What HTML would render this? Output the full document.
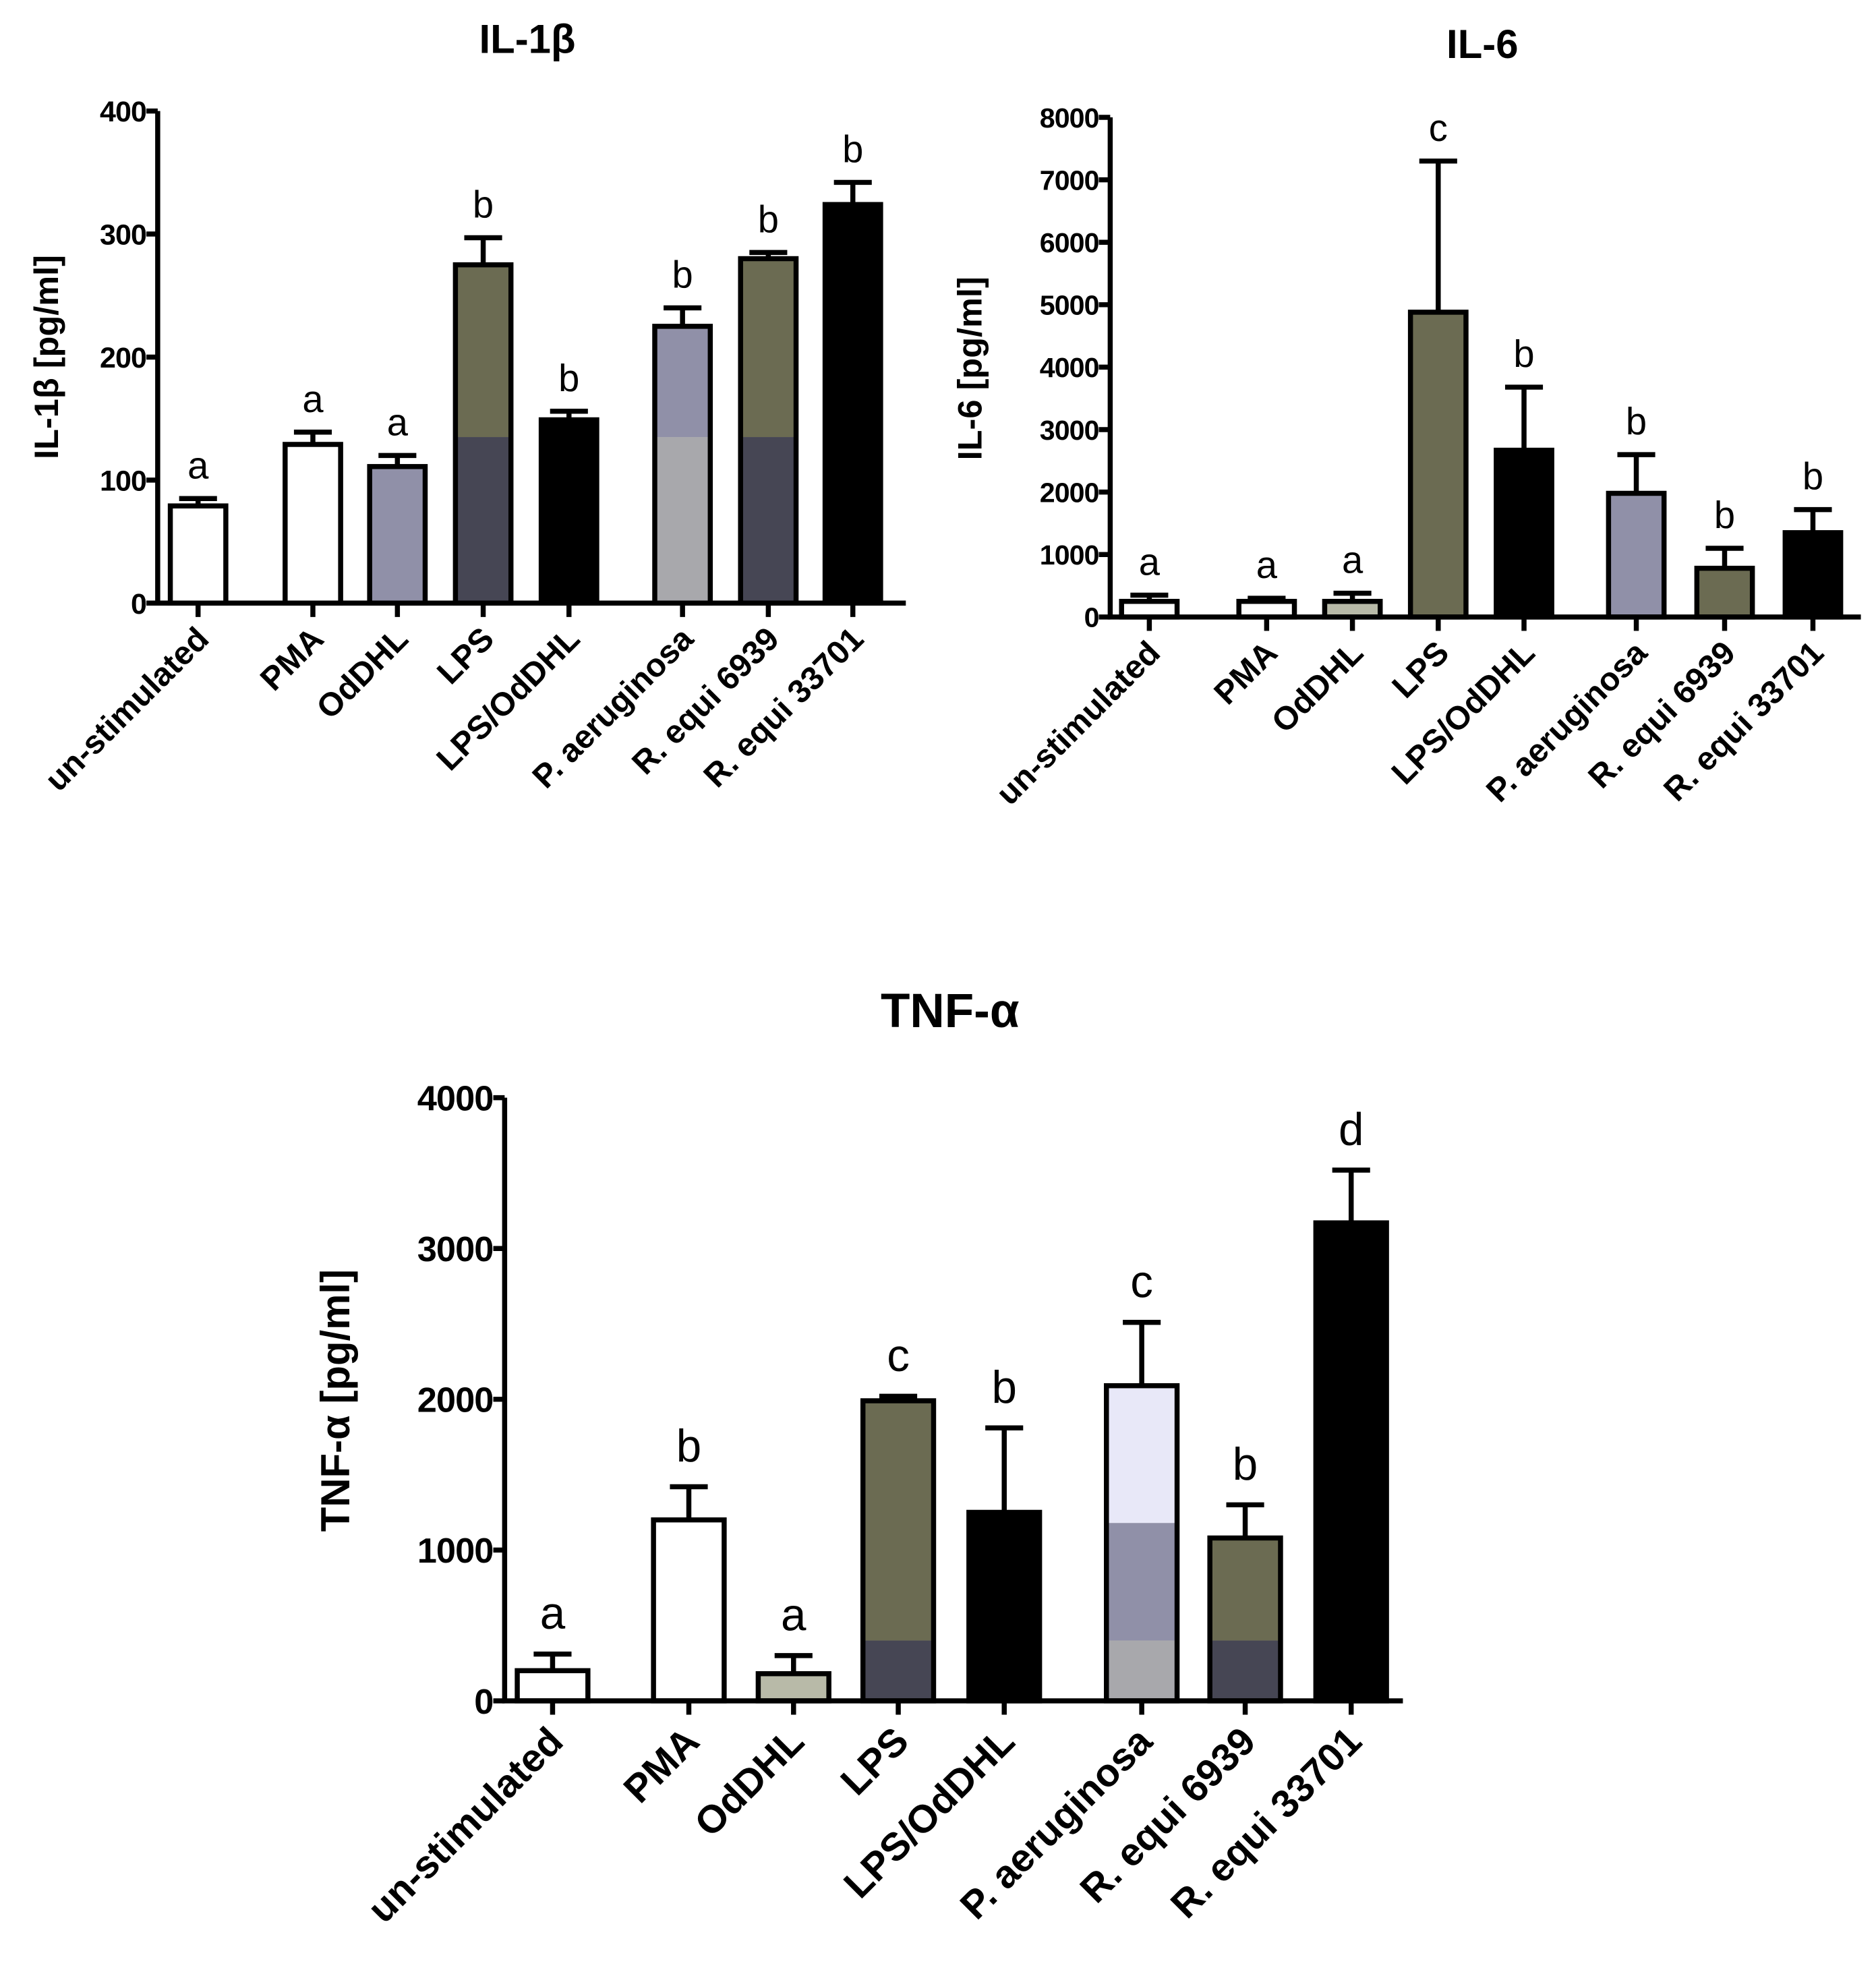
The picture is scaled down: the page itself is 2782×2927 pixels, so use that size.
<!DOCTYPE html>
<html><head><meta charset="utf-8"><style>
html,body{margin:0;padding:0;background:#fff}
svg{display:block;font-family:"Liberation Sans",Arial,sans-serif}
</style></head><body>
<svg id="fig" width="2782" height="2927" viewBox="0 0 1487 1564.5" preserveAspectRatio="none" xmlns="http://www.w3.org/2000/svg"></svg>
<script>
const categories = ["un-stimulated","PMA","OdDHL","LPS","LPS/OdDHL","P. aeruginosa","R. equi 6939","R. equi 33701"];
const il1Values = [79,129,111,275,149,225,280,324];
const il1Errors = [85,139,120,297,156,240,285,342];
const il1Letters = ["a","a","a","b","b","b","b","b"];
const il1Ticks = [0,100,200,300,400];
const il6Values = [250,250,250,4880,2670,1980,780,1350];
const il6Errors = [350,300,380,7300,3680,2600,1100,1720];
const il6Letters = ["a","a","a","c","b","b","b","b"];
const il6Ticks = [0,1000,2000,3000,4000,5000,6000,7000,8000];
const tnfValues = [200,1200,180,1990,1250,2090,1080,3170];
const tnfErrors = [310,1420,300,2020,1810,2510,1300,3520];
const tnfLetters = ["a","b","a","c","b","c","b","d"];
const tnfTicks = [0,1000,2000,3000,4000];

const NS="http://www.w3.org/2000/svg";
const svg=document.getElementById('fig');
function mk(tag,attrs,parent){const e=document.createElementNS(NS,tag);for(const k in attrs)e.setAttribute(k,attrs[k]);(parent||svg).appendChild(e);return e;}

const OLIVE="#6b6b52",DARK="#464654",LAV="#9090a8",LGRAY="#a8a8ac",GG="#b8baa8",PALE="#e8e8f8";

function drawChart(cfg){
  const g=mk('g',{});
  
  
  const yScale=v=>cfg.y0-(v/cfg.max)*(cfg.y0-cfg.yTop);
  const xScale=i=>cfg.centers[i];
  const t=mk('text',{x:cfg.titleX,y:cfg.titleY,'font-size':cfg.titleFs,'font-weight':'bold','text-anchor':'middle'},g);
  t.textContent=cfg.title;
  
  
  const yl=mk('text',{x:0,y:0,'font-size':cfg.ylFs,'font-weight':'bold','text-anchor':'middle',transform:`translate(${cfg.ylX},${cfg.ylY}) rotate(-90)`},g);
  yl.textContent=cfg.yLabel;
  
  
  cfg.values.forEach((v,i)=>{
    const cx=xScale(i),w=cfg.bw,x=cx-w/2;
    const top=yScale(v);
    cfg.fills[i].forEach(s=>{
      const a=yScale(Math.min(s[1]===null?v:s[1],v)),b=yScale(s[0]);
      if(b>a){const r=mk('rect',{x:x,y:a,width:w,height:b-a,fill:s[2]},g);
        
        }
    });
    const outline=mk('rect',{x:x,y:top,width:w,height:cfg.y0-top,fill:'none',stroke:'#000','stroke-width':4},g);
    
    
    const ey=yScale(cfg.errors[i]);
    const el=mk('path',{d:`M${cx},${top} V${ey} M${cx-15},${ey} H${cx+15}`,stroke:'#000','stroke-width':4,fill:'none'},g);
    
    
    const lt=mk('text',{x:cx,y:ey-cfg.letDy,'font-size':cfg.letFs,'text-anchor':'middle'},g);
    lt.textContent=cfg.letters[i];
    
    
    mk('line',{x1:cx,y1:cfg.y0,x2:cx,y2:cfg.y0+11,stroke:'#000','stroke-width':4},g);
    const cl=mk('text',{x:0,y:0,'font-size':cfg.catFs,'font-weight':'bold','text-anchor':'end',transform:`translate(${cx+10},${cfg.y0+cfg.catDy}) rotate(-45)`},g);
    cl.textContent=categories[i];
    
    
  });
  const ax=mk('path',{d:`M${cfg.axX},${cfg.yTop} V${cfg.y0} H${cfg.axEnd}`,stroke:'#000','stroke-width':4,fill:'none'},g);
  
  
  cfg.ticks.forEach(tv=>{
    const y=yScale(tv);
    mk('line',{x1:cfg.axX-9,y1:y,x2:cfg.axX,y2:y,stroke:'#000','stroke-width':4},g);
    const tl=mk('text',{x:cfg.axX-9,y:y+cfg.tickFs*0.36,'font-size':cfg.tickFs,'font-weight':'bold','text-anchor':'end','letter-spacing':-0.5},g);
    tl.textContent=tv;
    
    
  });
}

drawChart({name:'il1b-chart',title:'IL-1β',titleX:418,titleY:42,titleFs:32,yLabel:'IL-1β [pg/ml]',ylX:46,ylY:283,ylFs:27,
  values:il1Values,errors:il1Errors,letters:il1Letters,ticks:il1Ticks,max:400,y0:478,yTop:88,axX:125,axEnd:718,
  centers:[157,248,315,383,451,541,609,676],bw:44,tickFs:23,catFs:26,catDy:30,letFs:30,letDy:16,
  fills:[[[0,null,'#fff']],[[0,null,'#fff']],[[0,null,LAV]],[[0,135,DARK],[135,null,OLIVE]],[[0,null,'#000']],
         [[0,135,LGRAY],[135,null,LAV]],[[0,135,DARK],[135,null,OLIVE]],[[0,null,'#000']]]});

drawChart({name:'il6-chart',title:'IL-6',titleX:1175,titleY:46,titleFs:32,yLabel:'IL-6 [pg/ml]',ylX:778,ylY:292,ylFs:27,
  values:il6Values,errors:il6Errors,letters:il6Letters,ticks:il6Ticks,max:8000,y0:489,yTop:93,axX:880,axEnd:1475,
  centers:[911,1004,1072,1140,1208,1297,1367,1437],bw:44,tickFs:22,catFs:26,catDy:30,letFs:30,letDy:16,
  fills:[[[0,null,'#fff']],[[0,null,'#fff']],[[0,null,GG]],[[0,null,OLIVE]],[[0,null,'#000']],
         [[0,null,LAV]],[[0,null,OLIVE]],[[0,null,'#000']]]});

drawChart({name:'tnf-chart',title:'TNF-α',titleX:753,titleY:814,titleFs:38,yLabel:'TNF-α [pg/ml]',ylX:277,ylY:1110,ylFs:32,
  values:tnfValues,errors:tnfErrors,letters:tnfLetters,ticks:tnfTicks,max:4000,y0:1348,yTop:870,axX:400,axEnd:1112,
  centers:[438,546,629,712,796,905,987,1071],bw:56,tickFs:28,catFs:31,catDy:34,letFs:36,letDy:20,
  fills:[[[0,null,'#fff']],[[0,null,'#fff']],[[0,null,GG]],[[0,400,DARK],[400,null,OLIVE]],[[0,null,'#000']],
         [[0,400,LGRAY],[400,1180,LAV],[1180,null,PALE]],[[0,400,DARK],[400,null,OLIVE]],[[0,null,'#000']]]});
</script>
</body></html>
